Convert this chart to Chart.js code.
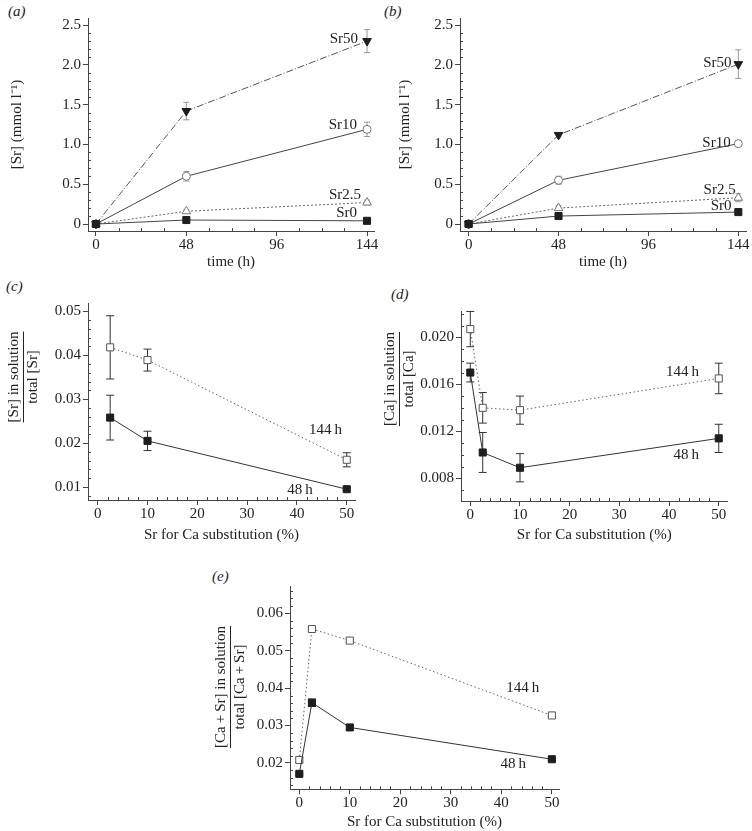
<!DOCTYPE html>
<html>
<head>
<meta charset="utf-8">
<script src="https://cdn.jsdelivr.net/npm/chart.js@4.4.0/dist/chart.umd.min.js"></script>
<style>
  body { margin: 0; background: #fff; }
  #page { position: relative; width: 752px; height: 831px; overflow: hidden; }
  .box { position: absolute; }
  .tag { position: absolute; font: italic 15px 'Liberation Serif', serif; color: #222; }
</style>
</head>
<body>
<div id="page">
  <div class="tag" style="left:8px;top:3px">(a)</div>
  <div class="tag" style="left:384px;top:3px">(b)</div>
  <div class="tag" style="left:6px;top:278px">(c)</div>
  <div class="tag" style="left:391px;top:286px">(d)</div>
  <div class="tag" style="left:212px;top:568px">(e)</div>
  <div class="box" style="left:0;top:0;width:380px;height:275px"><canvas id="chartA"></canvas></div>
  <div class="box" style="left:376px;top:0;width:376px;height:275px"><canvas id="chartB"></canvas></div>
  <div class="box" style="left:0;top:282px;width:370px;height:265px"><canvas id="chartC"></canvas></div>
  <div class="box" style="left:376px;top:282px;width:370px;height:265px"><canvas id="chartD"></canvas></div>
  <div class="box" style="left:180px;top:568px;width:385px;height:263px"><canvas id="chartE"></canvas></div>
</div>
<script>
// ---- data ----
const timeH = [0, 48, 144];
const timeTicks = ['0', '48', '96', '144'];
const srTicks = ['0', '0.5', '1.0', '1.5', '2.0', '2.5'];

// (a)
const aSr50 = [0, 1.42, 2.30];   const aSr50Err = [0.02, 0.11, 0.145];
const aSr10 = [0, 0.60, 1.19];   const aSr10Err = [0.02, 0.06, 0.09];
const aSr25 = [0, 0.16, 0.27];   const aSr25Err = [0.01, 0.02, 0.03];
const aSr0  = [0, 0.05, 0.04];   const aSr0Err  = [0.01, 0.01, 0.01];

// (b)
const bSr50 = [0, 1.12, 2.01];   const bSr50Err = [0.02, 0.03, 0.18];
const bSr10 = [0, 0.55, 1.01];   const bSr10Err = [0.02, 0.05, 0.02];
const bSr25 = [0, 0.20, 0.33];   const bSr25Err = [0.01, 0.03, 0.05];
const bSr0  = [0, 0.10, 0.15];   const bSr0Err  = [0.01, 0.01, 0.01];

const subTicks = ['0', '10', '20', '30', '40', '50'];

// (c)
const subC = [2.5, 10, 50];
const c144 = [0.0418, 0.0389, 0.0162];  const c144Err = [0.0072, 0.0025, 0.0016];
const c48  = [0.0258, 0.0205, 0.0095];  const c48Err  = [0.0051, 0.0022, 0.0003];
const cTicks = ['0.01', '0.02', '0.03', '0.04', '0.05'];

// (d)
const subD = [0, 2.5, 10, 50];
const d144 = [0.0207, 0.0140, 0.0138, 0.0165];  const d144Err = [0.0015, 0.0013, 0.0012, 0.0013];
const d48  = [0.0170, 0.0102, 0.0089, 0.0114];  const d48Err  = [0.0008, 0.0017, 0.0012, 0.0012];
const dTicks = ['0.008', '0.012', '0.016', '0.020'];

// (e)
const subE = [0, 2.5, 10, 50];
const e144 = [0.0208, 0.0558, 0.0527, 0.0327];  const e144Err = [0.0006, 0.0006, 0.0004, 0.0004];
const e48  = [0.0171, 0.0361, 0.0295, 0.0210];  const e48Err  = [0.0003, 0.0010, 0.0005, 0.0003];
const eTicks = ['0.02', '0.03', '0.04', '0.05', '0.06'];

Chart.defaults.font.family = "'Liberation Serif', 'Times New Roman', serif";
Chart.defaults.font.size = 15;
Chart.defaults.color = '#222';
Chart.defaults.animation = false;

const AXIS = '#444';

// error bars, drawn under the markers
const errorBars = {
  id: 'errorBars',
  beforeDatasetsDraw(chart) {
    const ctx = chart.ctx, ys = chart.scales.y;
    chart.data.datasets.forEach((ds, i) => {
      if (!ds.errors) return;
      const meta = chart.getDatasetMeta(i);
      ctx.save();
      ctx.strokeStyle = ds.errColor || '#444';
      ctx.lineWidth = 1;
      meta.data.forEach((pt, j) => {
        const e = ds.errors[j];
        if (!e) return;
        const v = ds.data[j].y;
        const top = ys.getPixelForValue(v + e), bot = ys.getPixelForValue(v - e);
        const cap = ds.errCap || 3;
        ctx.beginPath();
        ctx.moveTo(pt.x, top); ctx.lineTo(pt.x, bot);
        ctx.moveTo(pt.x - cap, top); ctx.lineTo(pt.x + cap, top);
        ctx.moveTo(pt.x - cap, bot); ctx.lineTo(pt.x + cap, bot);
        ctx.stroke();
      });
      ctx.restore();
    });
  }
};

// minor ticks pointing into the plot, notes and stacked y titles
const extras = {
  id: 'extras',
  afterDraw(chart, args, opts) {
    const ctx = chart.ctx, a = chart.chartArea;
    const xs = chart.scales.x, ys = chart.scales.y;
    ctx.save();
    ctx.strokeStyle = AXIS;
    ctx.lineWidth = 1;
    ctx.beginPath();
    (opts.xMinor || []).forEach(v => {
      const p = Math.round(xs.getPixelForValue(v)) + 0.5;
      ctx.moveTo(p, a.bottom); ctx.lineTo(p, a.bottom - 3);
    });
    (opts.yMinor || []).forEach(v => {
      const p = Math.round(ys.getPixelForValue(v)) + 0.5;
      ctx.moveTo(a.left, p); ctx.lineTo(a.left + 3, p);
    });
    ctx.stroke();

    ctx.fillStyle = '#222';
    ctx.font = "15px 'Liberation Serif', serif";
    ctx.textAlign = 'right';
    ctx.textBaseline = 'middle';
    (opts.notes || []).forEach(n => {
      ctx.fillText(n.text, xs.getPixelForValue(n.x), ys.getPixelForValue(n.y));
    });

    const f = opts.frac;
    if (f) {
      ctx.translate(f.x, f.y);
      ctx.rotate(-Math.PI / 2);
      ctx.textAlign = 'center';
      const w = Math.max(ctx.measureText(f.num).width, ctx.measureText(f.den).width);
      ctx.fillText(f.num, 0, -9);
      ctx.fillText(f.den, 0, 10);
      ctx.beginPath();
      ctx.moveTo(-w / 2, 0.5); ctx.lineTo(w / 2, 0.5);
      ctx.strokeStyle = '#222';
      ctx.stroke();
    }
    ctx.restore();
  }
};

function minorList(from, to, step, majors) {
  const out = [];
  const n = Math.round((to - from) / step);
  for (let i = 0; i <= n; i++) {
    const v = +(from + i * step).toFixed(6);
    if (!majors.some(m => Math.abs(m - v) < step / 10)) out.push(v);
  }
  return out;
}

function series(xs, ys, errs, style) {
  return Object.assign({
    data: xs.map((x, i) => ({ x: x, y: ys[i] })),
    errors: errs,
    showLine: true,
    borderWidth: 1,
    pointBorderWidth: 1
  }, style);
}

function linearAxis(pos, lim, labels, size, title) {
  const vals = labels.map(parseFloat);
  const ax = {
    type: 'linear',
    position: pos,
    min: lim[0],
    max: lim[1],
    afterBuildTicks: s => { s.ticks = vals.map(v => ({ value: v })); },
    afterFit: s => { if (pos === 'left') s.width = size; else s.height = size; },
    ticks: { callback: (v, i) => labels[i], padding: pos === 'left' ? 2 : 0, maxRotation: 0, autoSkip: false },
    grid: { drawOnChartArea: false, tickLength: 5, color: AXIS },
    border: { color: AXIS, width: 1 }
  };
  if (title) ax.title = title;
  return ax;
}

function makePanel(id, p) {
  return new Chart(document.getElementById(id), {
    type: 'scatter',
    data: { datasets: p.datasets },
    options: {
      responsive: true,
      maintainAspectRatio: false,
      layout: { padding: p.padding },
      plugins: {
        legend: { display: false },
        tooltip: { enabled: false },
        extras: { xMinor: p.xMinor, yMinor: p.yMinor, notes: p.notes, frac: p.frac }
      },
      scales: { x: p.x, y: p.y }
    },
    plugins: [errorBars, extras]
  });
}

// marker styles
const stSr50 = { borderColor: '#555', borderDash: [7, 2, 1, 2], pointStyle: 'triangle', rotation: 180,
  pointRadius: 5, pointBackgroundColor: '#1e1e1e', pointBorderColor: '#1e1e1e', errColor: '#999', errCap: 3 };
const stSr10 = { borderColor: '#444', pointStyle: 'circle', pointRadius: 4,
  pointBackgroundColor: '#fff', pointBorderColor: '#777', errColor: '#999', errCap: 3 };
const stSr25 = { borderColor: '#666', borderDash: [2, 2], pointStyle: 'triangle', pointRadius: 5,
  pointBackgroundColor: '#fff', pointBorderColor: '#777', errColor: '#999', errCap: 3 };
const stSr0 = { borderColor: '#444', pointStyle: 'rect', pointRadius: 5,
  pointBackgroundColor: '#1e1e1e', pointBorderColor: '#1e1e1e', errColor: '#999', errCap: 3 };
const st144 = { borderColor: '#666', borderDash: [1.5, 2.5], pointStyle: 'rect', pointRadius: 5,
  pointBackgroundColor: '#fff', pointBorderColor: '#555', errColor: '#333', errCap: 4 };
const st48 = { borderColor: '#333', pointStyle: 'rect', pointRadius: 5,
  pointBackgroundColor: '#1e1e1e', pointBorderColor: '#1e1e1e', errColor: '#333', errCap: 4 };

const timeTitle = { display: true, text: 'time (h)', padding: { top: 0, bottom: 4 } };
const subTitle = { display: true, text: 'Sr for Ca substitution (%)', padding: { top: 0, bottom: 3 } };
const timeMajors = timeTicks.map(parseFloat);
const subMajors = subTicks.map(parseFloat);

// (a)
makePanel('chartA', {
  padding: { left: 0, top: 18, right: 5, bottom: 0 },
  x: linearAxis('bottom', [-4.24, 147.7], timeTicks, 44, timeTitle),
  y: linearAxis('left', [-0.088, 2.59], srTicks, 88,
    { display: true, text: '[Sr] (mmol l\u207B\u00B9)', padding: { top: 8, bottom: 0 } }),
  xMinor: minorList(0, 144, 12, timeMajors),
  yMinor: minorList(0, 2.5, 0.1, srTicks.map(parseFloat)),
  notes: [
    { text: 'Sr50', x: 139.2, y: 2.32 },
    { text: 'Sr10', x: 138.7, y: 1.24 },
    { text: 'Sr2.5', x: 140.8, y: 0.36 },
    { text: 'Sr0', x: 138.7, y: 0.14 }
  ],
  datasets: [
    series(timeH, aSr0, aSr0Err, stSr0),
    series(timeH, aSr25, aSr25Err, stSr25),
    series(timeH, aSr10, aSr10Err, stSr10),
    series(timeH, aSr50, aSr50Err, stSr50)
  ]
});

// (b)
makePanel('chartB', {
  padding: { left: 0, top: 18, right: 4, bottom: 0 },
  x: linearAxis('bottom', [-4.61, 148.1], timeTicks, 44, timeTitle),
  y: linearAxis('left', [-0.088, 2.59], srTicks, 84,
    { display: true, text: '[Sr] (mmol l\u207B\u00B9)', padding: { top: 20, bottom: 0 } }),
  xMinor: minorList(0, 144, 12, timeMajors),
  yMinor: minorList(0, 2.5, 0.1, srTicks.map(parseFloat)),
  notes: [
    { text: 'Sr50', x: 140.4, y: 2.02 },
    { text: 'Sr10', x: 139.9, y: 1.02 },
    { text: 'Sr2.5', x: 142.6, y: 0.43 },
    { text: 'Sr0', x: 140.4, y: 0.23 }
  ],
  datasets: [
    series(timeH, bSr0, bSr0Err, stSr0),
    series(timeH, bSr25, bSr25Err, stSr25),
    series(timeH, bSr10, bSr10Err, stSr10),
    series(timeH, bSr50, bSr50Err, stSr50)
  ]
});

// (c)
makePanel('chartC', {
  padding: { left: 0, top: 21, right: 15, bottom: 0 },
  x: linearAxis('bottom', [-1.95, 51.66], subTicks, 47, subTitle),
  y: linearAxis('left', [0.00704, 0.0519], cTicks, 88),
  xMinor: minorList(0, 50, 2, subMajors),
  yMinor: minorList(0.008, 0.05, 0.002, cTicks.map(parseFloat)),
  notes: [
    { text: '144\u2009h', x: 49.05, y: 0.0230 },
    { text: '48\u2009h', x: 43.2, y: 0.0092 }
  ],
  frac: { x: 23, y: 95, num: '[Sr] in solution', den: 'total [Sr]' },
  datasets: [
    series(subC, c48, c48Err, st48),
    series(subC, c144, c144Err, st144)
  ]
});

// (d)
makePanel('chartD', {
  padding: { left: 0, top: 29.7, right: 18.3, bottom: 0 },
  x: linearAxis('bottom', [-1.87, 51.8], subTicks, 46, subTitle),
  y: linearAxis('left', [0.00607, 0.02218], dTicks, 85),
  xMinor: minorList(0, 50, 2, subMajors),
  yMinor: minorList(0.007, 0.022, 0.001, dTicks.map(parseFloat)),
  notes: [
    { text: '144\u2009h', x: 46.0, y: 0.01707 },
    { text: '48\u2009h', x: 46.0, y: 0.00998 }
  ],
  frac: { x: 23, y: 97, num: '[Ca] in solution', den: 'total [Ca]' },
  datasets: [
    series(subD, d48, d48Err, st48),
    series(subD, d144, d144Err, st144)
  ]
});

// (e)
makePanel('chartE', {
  padding: { left: 0, top: 18.7, right: 5, bottom: 0 },
  x: linearAxis('bottom', [-1.84, 51.41], subTicks, 41.7,
    { display: true, text: 'Sr for Ca substitution (%)', padding: { top: 0, bottom: 0 } }),
  y: linearAxis('left', [0.01297, 0.0671], eTicks, 110),
  xMinor: minorList(0, 50, 2, subMajors),
  yMinor: minorList(0.014, 0.066, 0.002, eTicks.map(parseFloat)),
  notes: [
    { text: '144\u2009h', x: 47.5, y: 0.0400 },
    { text: '48\u2009h', x: 44.9, y: 0.0198 }
  ],
  frac: { x: 50, y: 119, num: '[Ca\u2009+\u2009Sr] in solution', den: 'total [Ca\u2009+\u2009Sr]' },
  datasets: [
    series(subE, e48, e48Err, st48),
    series(subE, e144, e144Err, st144)
  ]
});
</script>
</body>
</html>
